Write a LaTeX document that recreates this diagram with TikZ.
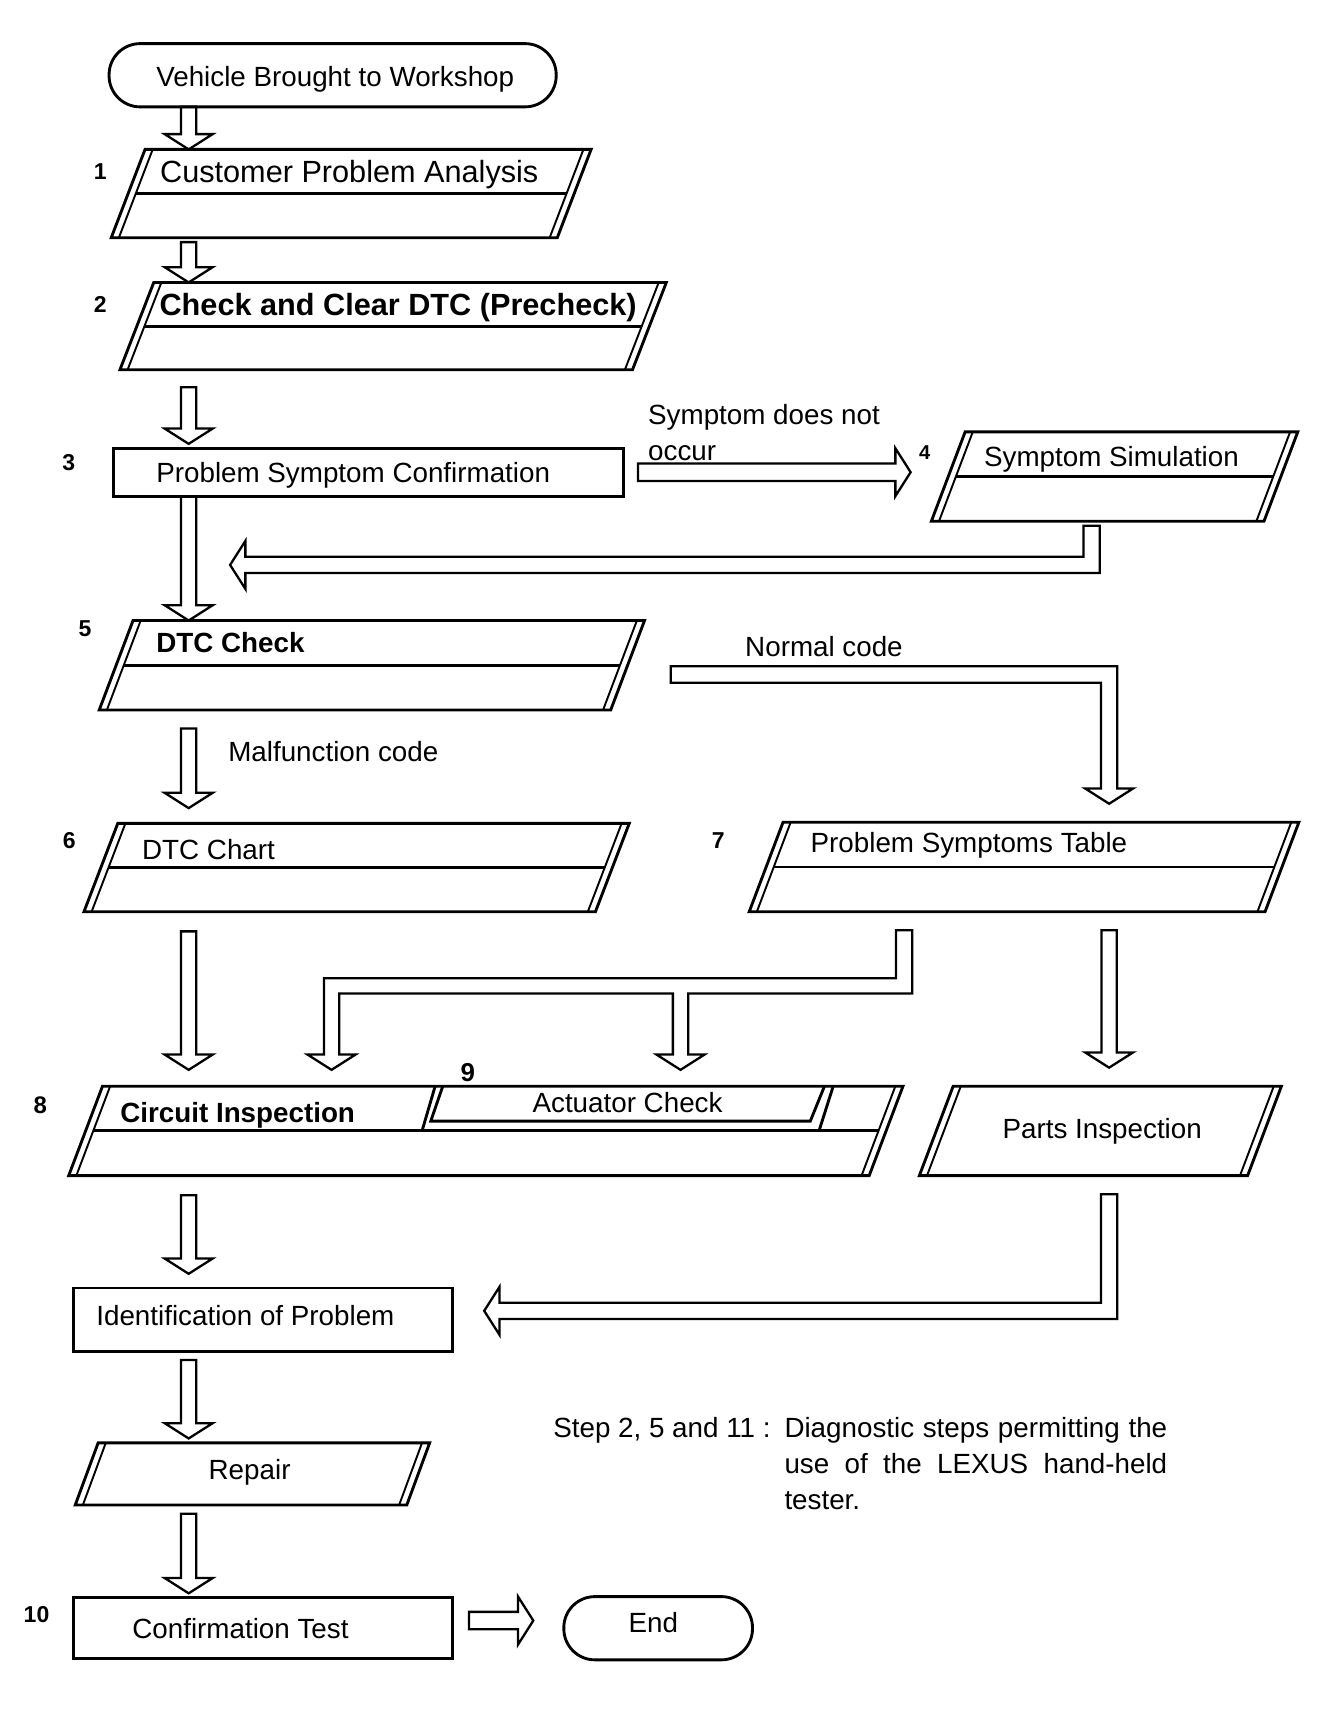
\documentclass[tikz,border=0pt]{standalone}
\usepackage{fontspec}
\setmainfont{Liberation Sans}
\usetikzlibrary{calc,fit,positioning}
\tikzset{
  boxline/.style={line width=1.5pt, line join=miter},
  thinline/.style={line width=1pt},
  arrowline/.style={line width=1.2pt, line join=miter},
  frame/.style={inner sep=0pt, outer sep=0pt},
  rbox/.style={frame, draw, boxline},
  terminal/.style={rbox, rounded corners=0.57cm},
  txt/.style={inner sep=0pt, anchor=base west},
  num/.style={inner sep=0pt, anchor=base, font=\fontsize{12}{14}\selectfont\bfseries}
}
% slanted box with doubled sides: [slant]{name}{corner}{corner}
\newcommand{\slantbox}[4][31]{%
  \node[frame, fit={#3 #4}] (#2) {};
  \draw[boxline] ($(#2.north west)+(#1,0)$) -- (#2.north east)
    -- ($(#2.south east)+(-#1,0)$) -- (#2.south west) -- cycle;
  \draw[thinline] ($(#2.north west)+(#1+7,0)$) -- ($(#2.south west)+(7,0)$)
    ($(#2.north east)+(-7,0)$) -- ($(#2.south east)+(-#1-7,0)$);}
\newcommand{\midline}[2][31]{%
  \draw[boxline] ($(#2.west)+(#1/2+7,0)$) -- ($(#2.east)+(-#1/2-7,0)$);}
% hollow block arrows
\newcommand{\blockdown}[2]{%
  \coordinate (s) at (#1); \coordinate (t) at (#2);
  \draw[arrowline] ($(s)+(-7,0)$) -- ($(t)+(-7,-14)$) -- ($(t)+(-22,-14)$) -- (t)
    -- ($(t)+(22,-14)$) -- ($(t)+(7,-14)$) -- ($(s)+(7,0)$) -- cycle;}
\newcommand{\blockright}[2]{%
  \coordinate (s) at (#1); \coordinate (t) at (#2);
  \draw[arrowline] ($(s)+(0,-8)$) -- ($(t)+(-14,-8)$) -- ($(t)+(-14,-22)$) -- (t)
    -- ($(t)+(-14,22)$) -- ($(t)+(-14,8)$) -- ($(s)+(0,8)$) -- cycle;}
\newcommand{\blockdownleft}[3]{%
  \coordinate (s) at (#1); \coordinate (c) at (#2); \coordinate (t) at (#3);
  \draw[arrowline] ($(s)+(-7.5,0)$) -- ($(s)+(7.5,0)$) -- ($(c)+(7.5,7.5)$)
    -- ($(t)+(14,7.5)$) -- ($(t)+(14,22)$) -- (t) -- ($(t)+(14,-22)$)
    -- ($(t)+(14,-7.5)$) -- ($(c)+(-7.5,-7.5)$) -- cycle;}
\newcommand{\blockrightdown}[3]{%
  \coordinate (s) at (#1); \coordinate (c) at (#2); \coordinate (t) at (#3);
  \draw[arrowline] ($(s)+(0,-7.5)$) -- ($(c)+(7.5,-7.5)$) -- ($(t)+(7.5,-14)$)
    -- ($(t)+(22,-14)$) -- (t) -- ($(t)+(-22,-14)$) -- ($(t)+(-7.5,-14)$)
    -- ($(c)+(-7.5,7.5)$) -- ($(s)+(0,7.5)$) -- cycle;}

\begin{document}
\begin{tikzpicture}[x=0.02cm, y=-0.02cm, font=\fontsize{14.5}{17}\selectfont]
\useasboundingbox (0,0) rectangle (1232,1568);
% columns and rows of the arrows
\coordinate (colA) at (173,0);
\coordinate (colB) at (1001,0);
\coordinate (colC) at (1017,0);
\coordinate (colD) at (829,0);
\coordinate (colE) at (304,0);
\coordinate (colF) at (624,0);
\coordinate (rowB) at (0,518);
\coordinate (rowC) at (0,1202);
\coordinate (rowN) at (0,618.5);
\coordinate (rowT) at (0,904);

% boxes
\node[terminal, fit={(100,40) (510,98)}] (start) {};
\slantbox{b1}{(102,137)}{(542,218)}
\slantbox{b2}{(110,259)}{(611,339)}
\node[rbox, fit={(104,411) (572,455)}] (b3) {};
\slantbox{b4}{(854,396)}{(1190,478)}
\slantbox{b5}{(91,569)}{(591,651)}
\slantbox{b6}{(77,755)}{(577,836)}
\slantbox{b7}{(687,754)}{(1191,836)}
\slantbox{b8}{(63,996)}{(828,1078)}
\slantbox{parts}{(843,996)}{(1175,1078)}
\node[rbox, fit={(67,1181) (415,1239)}] (ident) {};
\slantbox[21]{repair}{(69,1323)}{(394,1380)}
\node[rbox, fit={(67,1465) (415,1521)}] (conf) {};
\node[terminal, fit={(517,1464) (690,1522)}] (end) {};
\midline{b1} \midline{b2} \midline{b4} \midline{b5}
\midline{b6} \midline{b7} \midline{b8}

% actuator check inside circuit inspection
\node[frame, fit={(387,996) (764,1037)}] (b9) {};
\draw[boxline] ($(b9.north west)+(12,0)$) -- (b9.south west)
  (b9.north east) -- ($(b9.south east)+(-13,0)$);
\draw[boxline] ($(b9.north west)+(19,0)$) -- ($(b9.south west)+(8,-9)$)
  -- ($(b9.south east)+(-21,-9)$) -- ($(b9.north east)+(-8,0)$);

% texts
\node[txt] (tstart) at (143,79.5) {Vehicle Brought to Workshop};
\node[txt, font=\fontsize{16}{19}\selectfont] (t1) at (146.5,167.5) {Customer Problem Analysis};
\node[txt, font=\fontsize{16}{19}\selectfont\bfseries] (t2) at (146,289) {Check and Clear DTC (Precheck)};
\node[txt] (t3) at (143,442) {Problem Symptom Confirmation};
\node[txt] (t4) at (902,428) {Symptom Simulation};
\node[txt, font=\fontsize{14.5}{17}\selectfont\bfseries] (t5) at (143,598) {DTC Check};
\node[txt] (t6) at (130,788) {DTC Chart};
\node[txt] (t7) at (743,782) {Problem Symptoms Table};
\node[txt, font=\fontsize{14.5}{17}\selectfont\bfseries] (t8) at (110,1029) {Circuit Inspection};
\node[txt] (t9) at (488,1020) {Actuator Check};
\node[txt] (tparts) at (919,1044) {Parts Inspection};
\node[txt] (tident) at (88,1215) {Identification of Problem};
\node[txt] (trepair) at (191,1357) {Repair};
\node[txt] (tconf) at (121,1502) {Confirmation Test};
\node[anchor=base, inner sep=0pt] (tend) at (599,1497) {End};

\node[txt] (lnot) at (594,389) {Symptom does not};
\node[txt] (locc) at (594,422) {occur};
\node[txt] (lnorm) at (683,602) {Normal code};
\node[txt] (lmal) at (209,698) {Malfunction code};

\node[txt] (note) at (507,1318) {Step 2, 5 and 11 :};
\node[txt, text width=7.02cm, align=justify, font=\fontsize{14.5}{18.8}\selectfont] (notetext) at (719,1318)
  {Diagnostic steps permitting the\linebreak use of the LEXUS hand-held\linebreak tester.};

% step numbers
\node[num] (n1) at (92,165) {1};
\node[num] (n2) at (92,287) {2};
\node[num] (n3) at (63,431) {3};
\node[num, font=\fontsize{10.5}{12}\selectfont\bfseries] (n4) at (848,421) {4};
\node[num] (n5) at (78,584) {5};
\node[num] (n6) at (63.5,778) {6};
\node[num] (n7) at (658.5,778) {7};
\node[num, font=\fontsize{12.5}{15}\selectfont\bfseries] (n8) at (37,1021) {8};
\node[num, font=\fontsize{13.5}{16}\selectfont\bfseries] (n9) at (429,992) {9};
\node[num] (n10) at (33.5,1488) {10};

% arrows
\blockdown{colA |- start.south}{colA |- b1.north}
\blockdown{$(colA |- b1.south)+(0,4)$}{colA |- b2.north}
\blockdown{$(colA |- b2.south)+(0,16)$}{$(colA |- b3.north)+(0,-4)$}
\blockdown{colA |- b3.south}{colA |- b5.north}
\blockdown{$(colA |- b5.south)+(0,17)$}{$(colA |- b6.north)+(0,-14)$}
\blockdown{$(colA |- b6.south)+(0,18)$}{$(colA |- b8.north)+(0,-15)$}
\blockdown{$(colC |- b7.south)+(0,17)$}{$(colC |- parts.north)+(0,-17)$}
\blockdown{$(colA |- b8.south)+(0,18)$}{$(colA |- ident.north)+(0,-13)$}
\blockdown{$(colA |- ident.south)+(0,8)$}{$(colA |- repair.north)+(0,-4)$}
\blockdown{$(colA |- repair.south)+(0,8)$}{$(colA |- conf.north)+(0,-4)$}
\blockright{$(b3.east)+(13,0)$}{$(b3.east -| b4.west)+(-19,0)$}
\blockright{$(conf.east)+(15,-7)$}{$(conf.east -| end.west)+(-28,-7)$}
\blockdownleft{$(colB |- b4.south)+(0,4)$}{colB |- rowB}{$(colA |- rowB)+(38,0)$}
\blockdownleft{$(colC |- parts.south)+(0,17)$}{colC |- rowC}{$(ident.east |- rowC)+(29,0)$}
\blockrightdown{$(b5.east |- rowN)+(24,0)$}{colC |- rowN}{$(colC |- b7.north)+(0,-17)$}
\draw[arrowline] ($(colD |- b7.south)+(-7.5,17)$) -- ($(colD |- b7.south)+(7.5,17)$)
  -- ($(colD |- rowT)+(7.5,7)$) -- ($(colF |- rowT)+(7,7)$)
  -- ($(colF |- b8.north)+(7,-29)$) -- ($(colF |- b8.north)+(22,-29)$)
  -- ($(colF |- b8.north)+(0,-15)$) -- ($(colF |- b8.north)+(-22,-29)$)
  -- ($(colF |- b8.north)+(-7,-29)$) -- ($(colF |- rowT)+(-7,7)$)
  -- ($(colE |- rowT)+(7,7)$) -- ($(colE |- b8.north)+(7,-29)$)
  -- ($(colE |- b8.north)+(22,-29)$) -- ($(colE |- b8.north)+(0,-15)$)
  -- ($(colE |- b8.north)+(-22,-29)$) -- ($(colE |- b8.north)+(-7,-29)$)
  -- ($(colE |- rowT)+(-7,-7)$) -- ($(colD |- rowT)+(-7.5,-7)$) -- cycle;
\end{tikzpicture}
\end{document}
